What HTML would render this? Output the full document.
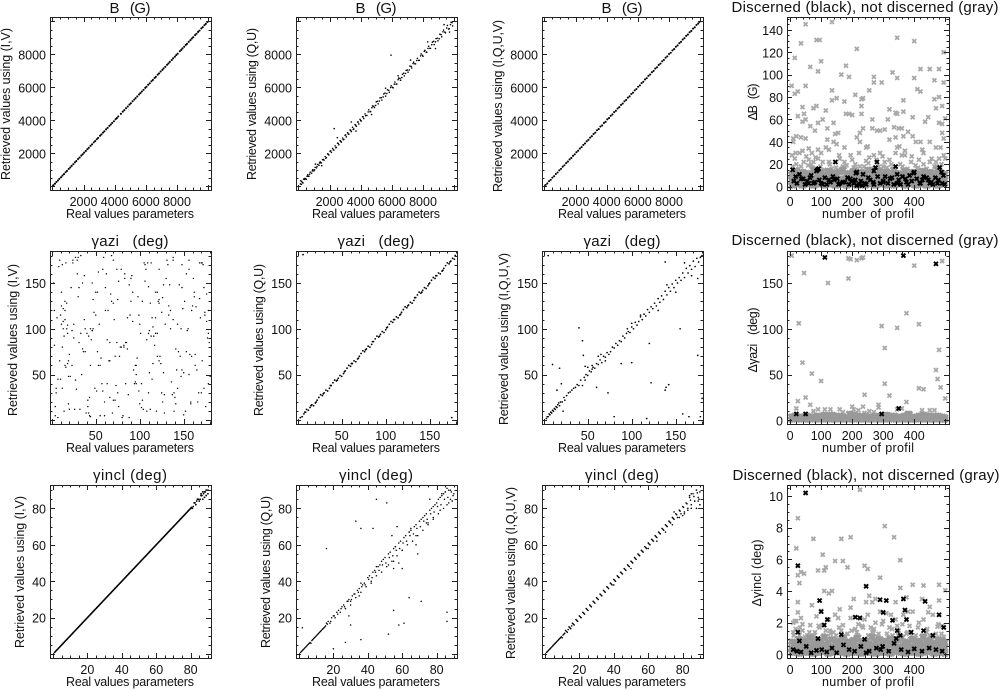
<!DOCTYPE html>
<html lang="en">
<head>
<meta charset="utf-8">
<title>Retrieved vs real values</title>
<style>
html,body{margin:0;padding:0;background:#fff;width:1004px;height:691px;overflow:hidden}
svg{display:block}
text{font-family:"Liberation Sans",sans-serif;fill:#111;white-space:pre}
.t{font-size:15px;text-anchor:middle}
.a{font-size:12.5px;text-anchor:middle}
.n{font-size:12.5px}
</style>
</head>
<body>
<svg id="chart" width="1004" height="691" viewBox="0 0 1004 691" xmlns="http://www.w3.org/2000/svg">
<rect width="1004" height="691" fill="#fff"/>
<g>
<text class="t" x="130" y="13" textLength="41">B   (G)</text>
<text class="t" x="376" y="13" textLength="41">B   (G)</text>
<text class="t" x="622" y="13" textLength="41">B   (G)</text>
<text class="t" x="865" y="12" textLength="267">Discerned (black), not discerned (gray)</text>
<text class="t" x="130" y="246" textLength="77">γazi   (deg)</text>
<text class="t" x="376" y="246" textLength="77">γazi   (deg)</text>
<text class="t" x="622" y="246" textLength="77">γazi   (deg)</text>
<text class="t" x="865" y="245" textLength="267">Discerned (black), not discerned (gray)</text>
<text class="t" x="130" y="480" textLength="74">γincl (deg)</text>
<text class="t" x="376" y="480" textLength="74">γincl (deg)</text>
<text class="t" x="622" y="480" textLength="74">γincl (deg)</text>
<text class="t" x="866" y="480" textLength="267">Discerned (black), not discerned (gray)</text>
</g>
<g>
<text class="a" x="130" y="218" textLength="128">Real values parameters</text>
<text class="a" x="376" y="218" textLength="128">Real values parameters</text>
<text class="a" x="622" y="218" textLength="128">Real values parameters</text>
<text class="a" x="868" y="218" textLength="92">number of profil</text>
<text class="a" x="130" y="452" textLength="128">Real values parameters</text>
<text class="a" x="376" y="452" textLength="128">Real values parameters</text>
<text class="a" x="622" y="452" textLength="128">Real values parameters</text>
<text class="a" x="868" y="452" textLength="92">number of profil</text>
<text class="a" x="130" y="686" textLength="128">Real values parameters</text>
<text class="a" x="376" y="686" textLength="128">Real values parameters</text>
<text class="a" x="622" y="686" textLength="128">Real values parameters</text>
<text class="a" x="868" y="686" textLength="92">number of profil</text>
</g>
<g>
<text class="a" transform="translate(10,104) rotate(-90)" textLength="152">Retrieved values using (I,V)</text>
<text class="a" transform="translate(256,104) rotate(-90)" textLength="152">Retrieved values using (Q,U)</text>
<text class="a" transform="translate(502,106) rotate(-90)" textLength="172">Retrieved values using (I,Q,U,V)</text>
<text class="a" transform="translate(757,102) rotate(-90)" textLength="37">ΔB   (G)</text>
<text class="a" transform="translate(17,340) rotate(-90)" textLength="152">Retrieved values using (I,V)</text>
<text class="a" transform="translate(263,340) rotate(-90)" textLength="152">Retrieved values using (Q,U)</text>
<text class="a" transform="translate(508,339) rotate(-90)" textLength="172">Retrieved values using (I,Q,U,V)</text>
<text class="a" transform="translate(757,340) rotate(-90)" textLength="65">Δγazi   (deg)</text>
<text class="a" transform="translate(24,572) rotate(-90)" textLength="152">Retrieved values using (I,V)</text>
<text class="a" transform="translate(270,572) rotate(-90)" textLength="152">Retrieved values using (Q,U)</text>
<text class="a" transform="translate(515,573) rotate(-90)" textLength="172">Retrieved values using (I,Q,U,V)</text>
<text class="a" transform="translate(761,573) rotate(-90)" textLength="67">Δγincl (deg)</text>
</g>
</svg>
<script>
// Tick labels
const ticksB=[2000,4000,6000,8000];
const ticksAzi=[50,100,150];
const ticksIncl=[20,40,60,80];
const ticksProfile=[0,100,200,300,400];
const ticksDeltaB=[0,20,40,60,80,100,120,140];
const ticksDeltaAzi=[0,50,100,150];
const ticksDeltaIncl=[0,2,4,6,8,10];

// B (G), retrieved with (I,V)
const bIvReal=[70,170,260,360,450,560,650,750,850,940,1050,1150,1240,1350,1450,1540,1650,1750,1860,1950,2040,2150,2250,2340,2450,2550,2660,2750,2850,2940,3060,3150,3250,3340,3450,3550,3660,3750,3840,3950,4060,4140,4230,4400,4520,4620,4730,4840,4950,5040,5150,5260,5340,5450,5560,5650,5740,5850,5960,6040,6150,6250,6360,6450,6560,6640,6760,6850,6950,7060,7140,7250,7360,7450,7540,7660,7750,7860,7950,8040,8180,8270,8350,8460,8560,8640,8750,8860,8950,9040,9160,9250,9350,9440,9560,9650,9760,9850,9950];
const bIvRetrieved=[75,165,265,355,455,555,655,745,855,935,1055,1145,1245,1345,1455,1535,1655,1745,1865,1945,2045,2145,2255,2335,2455,2545,2665,2745,2855,2935,3065,3145,3255,3335,3455,3545,3665,3745,3845,3945,4065,4135,4235,4395,4525,4615,4735,4835,4955,5035,5155,5255,5345,5445,5565,5645,5745,5845,5965,6035,6155,6245,6365,6445,6565,6635,6765,6845,6955,7055,7145,7245,7365,7445,7545,7655,7755,7855,7955,8035,8185,8265,8355,8455,8565,8635,8755,8855,8955,9035,9165,9245,9355,9435,9565,9645,9765,9845,9955];

// B (G), retrieved with (Q,U)
const bQuReal=[150,200,220,300,340,420,510,600,680,760,850,930,1000,1080,1170,1250,1330,1400,1480,1560,1650,1720,1800,1880,1960,2040,2120,2200,2280,2360,2440,2520,2600,2680,2760,2840,2920,3000,3080,3160,3240,3320,3400,3480,3560,3640,3720,3800,3880,3960,4040,4120,4200,4280,4400,4520,4640,4760,4880,5000,5120,5240,5360,5480,5600,5720,5840,5960,6080,6200,6320,6440,6560,6680,6800,6920,7040,7160,7280,7400,7520,7640,7760,7880,8000,8120,8240,8360,8480,8600,8720,8840,8960,9080,9200,9320,9440,9560,9680,9800,9900,5950,2300,8800,2500,3400,7200,1500,4700,6400,9350,9700,5600,3700,1100,8300];
const bQuRetrieved=[340,120,300,210,440,480,430,700,610,860,800,1010,940,1150,1120,1330,1280,1480,1420,1620,1590,1810,1740,1970,1900,2130,2060,2300,2200,2450,2360,2620,2520,2770,2680,2930,2840,3090,3000,3250,3160,3420,3320,3580,3480,3740,3640,3900,3780,4060,3960,4220,4110,4390,4300,4640,4530,4870,4770,5120,5000,5360,5230,5600,5470,5850,5700,6090,5970,6320,6200,6560,6430,6790,6690,7030,6920,7290,7170,7520,7420,7760,7640,8020,7880,8240,8120,8490,8360,8740,8590,8950,8820,9220,9060,9470,9300,9750,9550,9950,9720,7950,3500,8350,2950,3900,7650,1250,4350,6700,9800,9350,5950,3350,1350,8750];
const bQuExtraReal=[130,260,390,470,560,640,720,900,1040,1200,1360,1450,1600,1760,1920,2080,2240,2400,2560,2720,2880,3040,3200,3360,3520,3680,3840,4000,4160,4320,4480,4600,4720,4840,4960,5080,5200,5320,5440,5560,5680,5800,5920,6040,6160,6280,6400,6520,6640,6760,6880,7000,7120,7240,7360,7480,7600,7720,7840,7960,8080,8200,8320,8440,8560,8680,8800,8920,9040,9160,9280,9400,9520,9640,9760,9860];
const bQuExtraRetrieved=[150,220,420,460,610,610,735,940,1005,1210,1420,1425,1630,1710,1940,2150,2210,2340,2600,2730,2835,3120,3180,3395,3450,3705,3900,3985,4210,4280,4510,4520,4765,4860,4900,5155,5170,5375,5415,5650,5625,5815,5990,6000,6195,6195,6460,6540,6590,6855,6845,7045,7050,7265,7440,7425,7630,7630,7905,7940,8180,8140,8360,8365,8580,8790,8755,8980,8945,9190,9365,9350,9590,9530,9800,9920];

// B (G), retrieved with (I,Q,U,V)
const bIquvReal=[80,190,300,410,520,630,740,850,960,1070,1180,1290,1400,1510,1620,1730,1840,1950,2060,2170,2280,2390,2500,2610,2720,2830,2940,3050,3160,3270,3380,3490,3600,3710,3820,3930,4040,4150,4260,4370,4480,4590,4700,4810,4920,5030,5140,5250,5360,5470,5580,5690,5800,5910,6020,6130,6240,6350,6460,6570,6680,6790,6900,7010,7120,7230,7340,7450,7560,7670,7780,7890,8000,8110,8220,8330,8440,8550,8660,8770,8880,8990,9100,9210,9320,9430,9540,9650,9760,9870,9950];
const bIquvRetrieved=[90,175,315,400,530,620,750,840,970,1060,1190,1280,1410,1500,1630,1720,1850,1940,2070,2160,2290,2380,2510,2600,2730,2820,2950,3040,3175,3255,3400,3470,3625,3690,3840,3910,4060,4135,4275,4355,4495,4575,4715,4795,4935,5015,5155,5235,5375,5455,5595,5675,5815,5895,6035,6115,6255,6335,6475,6555,6695,6775,6915,6995,7135,7215,7355,7435,7575,7655,7795,7875,8015,8095,8235,8315,8455,8535,8675,8755,8895,8975,9115,9195,9335,9415,9555,9635,9775,9855,9960];

// Delta B (G): gray = not discerned
const bandProfile=[3,14,26,37,49,61,73,85,96,108,120,132,143,155,167,179,190,202,214,226,238,249,261,273,285,296,308,320,332,343,355,367,379,390,402,414,426,437,449,461,473,485,497];
const bandProfileAlt=[9,20,32,43,55,67,79,91,102,114,126,138,149,161,173,185,196,208,220,232,244,255,267,279,291,302,314,326,338,349,361,373,385,396,408,420,432,443,455,467,479,491,500];
const deltaBGrayProfile=[5,15,15,25,35,50,50,65,85,95,90,100,20,25,40,45,40,50,75,85,65,80,90,105,115,120,135,140,135,135,150,165,175,180,190,215,210,235,230,230,255,270,270,295,330,345,345,400,400,410,420,420,450,480,465,495,495,465,480,490,470,365,365,320,340,345,395,435,445,480,490,500,10,10,35,50,60,30,40,70,90,100,115,125,140,150,155,145,175,180,190,200,230,235,225,215,225,245,265,265,280,290,305,315,320,335,350,360,340,345,365,370,380,395,405,420,430,450,470,490,495,485,495,500,15,20,35,60,75,90,105,125,145,160,175,195,210,225,245,255,270,290,305,320,340,355,370,390,415,430,450,465,480];
const deltaBGrayError=[90,115,83,85,128,145,90,107,131,131,103,112,45,63,71,65,58,60,70,72,54,50,57,60,68,52,86,57,147,77,79,100,76,108,98,123,82,79,78,72,86,98,93,93,102,97,133,130,97,87,85,105,105,105,95,93,120,78,80,72,70,77,67,69,66,65,62,58,62,57,56,61,40,43,44,43,34,30,32,30,33,30,35,33,40,38,48,47,35,65,65,64,65,52,48,44,40,35,52,60,50,50,51,60,42,53,52,52,44,35,45,32,49,45,40,40,30,40,35,48,43,35,28,25,25,20,18,24,22,25,22,22,22,25,22,28,20,18,23,26,28,30,22,24,30,20,28,22,24,20,22,18,25];
const deltaBGrayExtraProfile=[8,28,44,58,72,82,98,110,128,148,158,168,182,200,212,222,238,252,262,278,286,298,312,326,338,352,362,378,392,404,412,426,440,456,472,488,18,52,88,120,170,205,250,300,360,410,470,6,68,134];
const deltaBGrayExtraError=[18,16,22,19,17,26,18,15,20,17,28,16,19,24,16,30,18,21,16,24,18,27,17,20,16,36,18,16,27,19,17,33,16,25,18,20,30,27,16,42,18,17,36,18,28,16,22,28,20,16];
const deltaBBandLow=[1,3,2,1,3,2,1,3,2,1,2,3,1,2,3,1,2,3,1,2,1,3,2,1,3,2,1,3,1,2,3,1,2,3,1,2,3,1,2,3,1,2,3];
const deltaBBandMid=[6,7,5,8,6,7,5,6,8,5,7,6,8,5,7,6,5,8,6,7,5,6,8,7,5,6,7,8,5,6,7,8,6,5,7,6,8,5,7,6,5,7,6];
const deltaBBandHigh=[11,14,10,13,12,10,15,11,13,10,14,12,10,13,15,11,12,14,10,13,11,15,12,10,14,11,13,10,15,12,11,14,10,13,12,10,14,11,13,10,15,12,11];
const deltaBBlackProfile=[8,18,30,42,55,68,80,88,92,112,125,138,146,152,170,185,198,205,212,222,235,245,258,268,275,282,300,315,328,340,350,362,375,385,398,408,418,430,445,455,468,475,482,488,494,22,48,75,105,130,160,190,215,240,270,300,345,380,420,460,490,85,215,270,280,345,400,12,36,60,94,118,142,176,194,228,252,290,322,356,392,426,450,478,498,64,100,156,210,232,306,334,372,440];
const deltaBBlackError=[15,9,11,7,5,10,4,15,16,8,6,9,22,7,4,8,5,3,12,2,11,2,6,4,17,9,5,3,8,18,6,9,4,10,12,7,3,9,6,4,8,3,17,13,10,3,2,3,2,4,3,2,1,3,2,4,3,2,3,2,3,14,13,14,22,11,13,5,7,3,6,2,6,4,7,5,8,3,7,2,5,6,3,6,2,8,3,2,6,1,9,2,7,8];

// Gamma azimuth (deg), retrieved with (I,V)
const aziIvReal=[3,8,12,15,18,22,26,30,34,38,42,47,52,57,62,66,71,76,80,85,90,95,100,105,110,114,118,123,128,133,138,142,147,152,157,162,167,172,177,180,2,6,10,14,17,20,24,28,33,37,41,45,50,55,60,64,68,73,78,83,87,92,97,102,107,111,116,121,126,131,136,141,145,150,155,160,165,170,175,179,5,9,13,16,19,23,27,31,35,39,44,48,53,58,63,67,72,77,81,86,91,96,101,106,112,117,122,127,132,137,143,148,153,158,163,168,173,178,4,11,16,21,25,29,36,43,49,54,59,65,70,75,82,88,94,99,104,109,115,120,125,130,135,140,146,151,156,161,166,171,176,7,12,15,19,24,32,40,46,51,56,61,69,74,79,84,89,93,98,103,108,113,119,124,129,134,139,144,149,154,159,164,169,174,10,13,17,18,14,11,15,44,42,46,114,118,122,112,126,120,110,164,168,172,166,174];
const aziIvRetrieved=[82,168,35,120,62,145,12,178,50,100,8,132,75,40,160,25,110,152,3,85,130,60,18,172,95,45,140,70,28,115,178,55,100,10,72,135,30,170,90,48,150,112,45,10,128,72,175,34,95,158,22,88,140,60,5,120,180,38,80,155,28,108,68,14,165,52,92,130,20,175,42,78,148,6,100,125,55,172,15,85,30,65,122,172,18,98,44,145,78,8,60,118,162,32,88,138,22,70,5,112,158,40,95,152,12,82,128,52,170,28,105,145,75,18,60,172,35,120,15,140,58,48,90,160,75,5,35,105,178,65,22,132,80,148,40,115,12,172,62,95,30,155,100,25,70,130,50,155,20,65,108,3,80,130,48,172,12,95,150,32,68,120,8,85,165,40,115,55,135,22,88,172,10,62,105,148,30,75,122,98,120,124,112,118,115,108,100,104,92,105,110,100,92,98,112,95,132,128,134,140,146];
const aziIvExtraReal=[3,7,9,13,20,23,27,31,35,38,43,46,50,55,58,63,68,72,76,79,83,88,92,96,100,106,110,113,118,122,128,133,138,143,148,153,158,163,168,173,178,5,11,19,25,33,41,47,53,61,66,70,75,82,90,95,103,108,115,120,127,135,141,150,156,162,170,176,4,15,29,37,52,60,74,86,99,111,125,139,147,159,171,178,18,44,70,96,122,148,174,12,30,66,84,102,138,156];
const aziIvExtraRetrieved=[120,45,175,100,12,60,178,85,150,75,25,98,115,5,165,40,130,70,15,80,160,3,140,50,105,170,30,92,112,65,8,125,175,35,55,160,20,72,133,145,95,35,125,65,105,180,15,100,60,145,85,175,30,82,155,42,130,10,102,70,148,120,18,52,175,140,30,138,5,60,175,110,140,20,165,78,32,98,118,10,48,70,172,40,95,4,128,60,165,170,115,170,135,65,85,40,110,165];

// Gamma azimuth (deg), retrieved with (Q,U)
const aziQuReal=[5,8,12,16,20,24,28,32,36,40,44,48,52,56,60,64,68,72,76,80,84,88,92,96,100,104,108,112,116,120,124,128,132,136,140,144,148,152,156,160,164,168,172,176,179,10,18,26,34,42,50,58,66,74,82,90,98,106,114,122,130,138,146,154,162,170,178,6,175];
const aziQuRetrieved=[4,9,11,17,19,25,27,33,35,41,43,49,51,57,59,65,67,73,75,81,83,89,91,97,99,105,107,113,115,121,123,129,131,137,139,145,147,153,155,161,163,169,171,177,180,12,16,28,32,44,48,60,64,76,80,92,96,108,112,124,128,140,144,156,160,172,176,181,3];
const aziQuExtraReal=[3,7,14,22,30,38,46,54,62,70,78,86,94,102,110,118,126,134,142,150,158,166,174,9,15,21,29,37,45,53,61,69,77,85,93,101,109,117,125,133,141,149,157,165,173];
const aziQuExtraRetrieved=[3,7,14,22,30,38,46,54,62,70,78,86,94,102,110,118,126,134,142,150,158,166,174,9,16,20,29,38,44,53,62,68,77,86,92,101,110,116,125,134,140,149,158,164,173];

// Gamma azimuth (deg), retrieved with (I,Q,U,V)
const aziIquvReal=[3,4,5,6,7,8,9,10,11,12,13,14,15,16,17,18,19,21,23,24,26,28,30,32,34,36,38,40,42,44,46,47,48,50,52,54,55,56,58,60,62,64,66,68,70,72,74,76,78,80,82,84,86,88,90,92,94,96,98,100,102,104,106,108,110,112,114,116,118,120,122,124,126,128,130,132,134,136,138,140,142,144,146,148,150,152,154,156,158,160,162,164,166,168,170,172,174,176,178,180,5,10,18,20,15,22,40,44,45,47,60,62,73,88,80,100,117,120,122,138,138,139,142,155,158,165,175,178,180,175,55,65,50,70,95,100,110,130,140,150,160,168];
const aziIquvRetrieved=[2,4,4,7,6,9,8,11,10,13,12,15,14,17,19,16,20,20,25,22,27,30,31,33,35,36,39,38,44,38,47,44,50,49,54,53,56,58,57,62,61,66,63,70,69,74,72,75,80,79,84,82,87,86,92,90,95,97,96,102,100,107,104,108,113,110,116,114,121,118,124,122,128,125,133,129,136,132,141,137,145,141,149,145,153,150,156,153,161,156,166,161,169,165,174,168,177,173,178,180,180,61,57,40,33,10,101,87,71,59,36,70,30,62,4,63,2,84,41,173,33,36,39,100,7,4,71,4,24,155,60,72,58,65,100,106,115,120,148,140,172,158];

// Delta gamma azimuth (deg)
const deltaAziGrayProfile=[5,20,25,28,40,45,50,65,70,75,90,100,112,122,130,160,170,188,188,195,200,205,215,220,230,235,240,235,240,255,270,285,285,295,305,305,320,345,345,360,375,375,380,400,415,415,425,430,450,465,470,475,480,485,490,500];
const deltaAziGrayError=[180,13,21,106,63,161,25,17,51,10,12,43,12,150,12,12,9,155,177,176,15,12,175,11,177,15,28,178,8,10,9,17,14,103,79,40,27,101,12,13,117,20,8,169,35,105,11,34,11,11,55,45,77,36,174,24];
const deltaAziBandLow=[1,2,1,2,1,1,2,1,2,1,2,1,1,2,1,2,1,1,2,1,2,1,1,2,1,2,1,2,1,1,2,1,2,1,1,2,1,2,1,1,2,1,1];
const deltaAziBandHigh=[4,5,3,4,5,4,3,5,4,6,5,6,4,5,4,3,7,6,5,4,5,4,3,5,4,5,6,4,5,4,3,5,7,4,3,5,6,4,5,3,5,4,3];
const deltaAziBlackProfile=[112,365,470,20,50,295,350];
const deltaAziBlackError=[178,180,171,7,7,7,13];

// Gamma inclination (deg), retrieved with (I,V)
const inclIvReal=[1,2,3,4,5,6,7,8,9,10,11,12,13,14,15,16,17,18,19,20,21,22,23,24,25,26,27,28,29,30,31,32,33,34,35,36,37,38,39,40,41,42,43,44,45,46,47,48,49,50,51,52,53,54,55,56,57,58,59,60,61,62,63,64,65,66,67,68,69,70,71,72,73,74,75,76,77,78,79,80,81,82,83,84,85,86,87,88,89,90,86,88,84,87,89,90];
const inclIvRetrieved=[1,2,3,4,5,6,7,8,9,10,11,12,13,14,15,16,17,18,19,20,21,22,23,24,25,26,27,28,29,30,31,32,33,34,35,36,37,38,39,40,41,42,43,44,45,46,47,48,49,50,51,52,53,54,55,56,57,58,59,60,61,62,63,64,65,66,67,68,69,70,71,72,73,74,75,76,77,78,79,80,80,83,82,85,84,87,85,89,87,90,88,86,85,89,90,88];
const inclIvExtraReal=[1.5,2.5,3.5,4.5,5.5,6.5,7.5,8.5,9.5,10.5,11.5,12.5,13.5,14.5,15.5,16.5,17.5,18.5,19.5,20.5,21.5,22.5,23.5,24.5,25.5,26.5,27.5,28.5,29.5,30.5,31.5,32.5,33.5,34.5,35.5,36.5,37.5,38.5,39.5,40.5,41.5,42.5,43.5,44.5,45.5,46.5,47.5,48.5,49.5,50.5,51.5,52.5,53.5,54.5,55.5,56.5,57.5,58.5,59.5,60.5,61.5,62.5,63.5,64.5,65.5,66.5,67.5,68.5,69.5,70.5,71.5,72.5,73.5,74.5,75.5,76.5,77.5,78.5,79.5,80.5,81.5,82.5,83.5,84.5,85.5,86.5,87.5,88.5];
const inclIvExtraRetrieved=[1.5,2.5,3.5,4.5,5.5,6.5,7.5,8.5,9.5,10.5,11.5,12.5,13.5,14.5,15.5,16.5,17.5,18.5,19.5,20.5,21.5,22.5,23.5,24.5,25.5,26.5,27.5,28.5,29.5,30.5,31.5,32.5,33.5,34.5,35.5,36.5,37.5,38.5,39.5,40.5,41.5,42.5,43.5,44.5,45.5,46.5,47.5,48.5,49.5,50.5,51.5,52.5,53.5,54.5,55.5,56.5,57.5,58.5,59.5,60.5,61.5,62.5,63.5,64.5,65.5,66.5,67.5,68.5,69.5,70.5,71.5,72.5,73.5,74.5,75.5,76.5,77.5,78.5,79.5,80.5,81,83,84,85,85,87,88,89];

// Gamma inclination (deg), retrieved with (Q,U)
const inclQuReal=[1,2,3,4,5,6,7,8,9,10,11,12,13,14,15,16,17,18,19,20,21,22,23,24,25,26,27,28,29,30,31,32,33,34,35,36,37,38,39,40,41,42,43,44,45,46,47,48,49,50,51,52,53,54,55,56,57,58,59,60,61,62,63,64,65,66,67,68,69,70,71,72,73,74,75,76,77,78,79,80,81,82,83,84,85,86,87,88,89,90,30,36,42,48,52,56,60,64,68,72,75,78,82,84,86,88,2,16,20,27,29,30,33,36,36,43,45,51,52,54,55,55,58,58,57,60,61,64,68,69,71,76,86,86];
const inclQuRetrieved=[1,2,3,4,5,6,6,8,9,10,11,12,13,14,15,17,18,17,20,21,20,23,24,23,26,27,25,29,30,29,32,33,31,35,36,34,38,39,37,42,43,40,45,46,43,48,49,45,52,53,48,55,56,51,58,59,54,61,62,57,64,65,60,67,68,62,70,71,65,73,74,68,76,77,71,79,80,74,82,83,77,86,87,80,89,91,83,90,84,88,27,39,39,51,49,59,57,67,65,75,72,81,79,88,82,85,14.5,58,3,6.5,21,16,73,69,8,69,85,83,11,65,24,47,16,50,70,47,17,31,60,55,29,85,23,18];
const inclQuExtraReal=[1.5,2.5,3.5,4.5,5.5,6.5,7.5,8.5,9.5,10.5,11.5,12.5,13.5,14.5,15.5,16.5,18.5,20.5,22.5,24.5,26.5,28.5,30.5,32.5,34.5,36.5,38.5,40.5,42.5,44.5,46.5,48.5,50.5,52.5,54.5,56.5,58.5,60.5,62.5,64.5,66.5,68.5,70.5,72.5,74.5,76.5,78.5,80.5,82.5,84.5,86.5,88.5,89.5,85,87,83,89,81,78,74,65,55,45,35];
const inclQuExtraRetrieved=[1.5,2.5,3.5,4.5,5.5,6.5,7.5,8.5,9.5,10.5,11.5,12.5,13.5,14.5,15.5,16.5,18,21,22,25,26,29,30,33,34,37,38,41,42,45,46,49,50,53,54,57,58,61,62,65,66,69,70,73,74,77,78,81,82,85,86,89,87,89,90,88,84,85,75,72,69,51,48,32];

// Gamma inclination (deg), retrieved with (I,Q,U,V)
const inclIquvReal=[1,2,3,4,5,6,7,8,9,10,11,12,13,14,15,16,17,18,19,20,21,22,23,24,25,26,27,28,29,30,31,32,33,34,35,36,37,38,39,40,41,42,43,44,45,46,47,48,49,50,51,52,53,54,55,56,57,58,59,60,61,62,63,64,65,66,67,68,69,70,71,72,73,74,75,76,77,78,79,80,81,82,83,84,85,86,87,88,89,90,40,50,60,70,80,85,75,65,88,90,84];
const inclIquvRetrieved=[1,2,3,4,5,6,7,8,9,9,11,13,12,15,14,17,16,19,18,21,20,23,22,25,24,27,26,29,28,31,30,33,32,35,34,37,36,39,38,41,40,43,42,45,44,47,46,49,48,51,50,53,52,55,54,57,56,59,58,61,60,63,62,65,64,67,66,69,68,71,70,73,72,75,74,77,75,79,77,81,78,83,80,86,82,88,84,90,86,89,38,47,58,67,76,80,78,62,80,82,87];
const inclIquvExtraReal=[1.5,2.5,3.5,4.5,5.5,6.5,7.5,8.5,9.5,10.5,11.5,12.5,13.5,14.5,15.5,16.5,18.5,20.5,22.5,24.5,26.5,28.5,30.5,32.5,34.5,36.5,38.5,40.5,42.5,44.5,46.5,48.5,50.5,52.5,54.5,56.5,58.5,60.5,62.5,64.5,66.5,68.5,70.5,72.5,74.5,76.5,78.5,80.5,82.5,84.5,86.5,88.5,89.5,85,87,83,89,81,78,74];
const inclIquvExtraRetrieved=[1.5,2.5,3.5,4.5,5.5,6.5,7.5,8.5,9.5,10.5,11.5,12.5,13.5,14.5,15.5,16.5,18.5,20.5,22.5,24.5,26.5,28.5,30.5,32.5,34.5,36.5,38.5,40.5,42.5,44.5,46.5,48.5,50.5,52.5,54.5,56.5,58.5,60.5,62.5,64.5,66.5,68.5,70.5,72.5,74.5,76.5,78.5,80.5,82.5,84.5,86.5,88.5,85,88,84,79,84,77,75,71];

// Delta gamma inclination (deg)
const deltaInclGrayProfile=[20,25,25,30,35,45,75,70,90,105,110,115,110,125,135,145,165,170,195,185,205,225,240,250,245,255,265,275,290,305,335,355,355,340,375,395,425,430,450,480,480,500,25,15,10,20,25,35,40,65,85,100,105,125,145,160,155,170,195,195,210,225,240,250,260,275,290,300,310,325,340,350,365,380,395,415,430,445,460,475,490,10,30,55,80,115,140,165,185,215,235,265,285,320,345,375,405,440,470,495];
const deltaInclGrayError=[6.7,8.6,5.0,4.5,5.2,5.1,7.3,3.1,5.3,6.3,5.3,5.5,4.0,3.85,4.0,5.9,7.3,5.9,7.4,5.5,3.5,10.4,5.6,5.4,3.3,3.7,3.3,3.5,4.85,8.1,7.4,5.95,4.2,3.3,3.6,4.4,3.5,4.35,3.0,3.4,4.4,4.05,3.3,2.1,2.0,2.1,2.65,2.3,1.5,1.85,2.4,2.75,1.85,2.2,2.5,2.85,2.3,1.85,2.95,2.3,1.6,2.3,2.2,2.5,1.7,2.0,2.7,2.1,2.6,2.5,2.2,1.5,2.5,2.7,2.7,2.0,2.2,2.65,2.5,1.75,1.8,1.4,1.2,1.2,1.4,1.5,1.4,1.5,1.3,1.4,1.7,1.4,1.3,1.7,1.8,1.3,1.2,1.4,1.3,1.1];
const deltaInclGrayExtraProfile=[12,32,48,62,78,92,108,128,148,158,178,198,218,232,252,268,282,296,312,328,348,362,378,392,412,428,442,458,478,488,18,40,70,95,130,175,220,270,330,385,450];
const deltaInclGrayExtraError=[1.2,1.7,1.1,1.4,1.2,1.8,1.2,1.5,1.2,1.7,1.1,1.5,1.2,1.8,1.2,1.5,1.1,1.9,1.3,1.6,1.2,1.9,1.4,1.2,1.7,1.2,1.6,1.2,1.9,1.3,1.6,1.9,1.2,1.7,1.3,1.2,1.9,1.6,1.2,1.8,1.2];
const deltaInclBandLow=[.1,.2,.05,.15,.1,.2,.05,.1,.2,.15,.05,.1,.2,.15,.1,.05,.2,.1,.15,.05,.2,.1,.15,.05,.1,.2,.1,.05,.15,.2,.1,.05,.15,.1,.2,.05,.1,.15,.2,.05,.1,.15,.05];
const deltaInclBandMid=[.4,.5,.35,.45,.55,.4,.5,.35,.45,.6,.4,.5,.35,.55,.45,.4,.5,.6,.35,.45,.5,.4,.55,.35,.5,.45,.4,.6,.35,.5,.45,.55,.4,.35,.5,.45,.6,.4,.5,.35,.55,.45,.4];
const deltaInclBandHigh=[.8,.7,.95,.75,.85,1.05,.7,.9,.8,1.1,.75,.95,.7,.85,1.0,.8,.7,.9,1.05,.75,.85,.7,1.1,.8,.95,.75,.85,1.0,.7,.9,1.05,.8,.7,.95,.85,.75,1.1,.8,.9,.7,.95,.85,.75];
const deltaInclBlackProfile=[50,25,95,245,290,310,365,435,225,210,100,120,110,25,30,90,165,240,300,330,345,370,375,390,430,460,480,495,355,10,22,35,52,68,85,102,118,135,150,172,190,208,228,245,255,278,292,298,318,335,342,358,380,400,425,448,470,490];
const deltaInclBlackError=[10.2,5.6,3.4,4.3,3.45,3.4,3.5,3.35,2.3,2.35,2.7,2.2,1.85,1.4,.85,1.0,1.25,.95,2.65,2.15,1.5,2.8,2.2,1.4,1.5,1.2,2.5,1.7,1.2,.3,.2,.15,.5,.1,.25,.3,.15,.4,.1,.6,.3,.2,.5,.1,.2,.4,.3,.5,.2,.7,1.0,.3,.15,.35,.2,.4,.3,.2];

// Axis functions
function makeScale(d0,d1,r0,r1){return function(v){return r0+(v-d0)*(r1-r0)/(d1-d0);};}
const SVGNS='http://www.w3.org/2000/svg';
const chart=document.getElementById('chart');
function mk(tag,parent){const el=document.createElementNS(SVGNS,tag);parent.appendChild(el);return el;}
function crisp(v){return Math.round(v)+0.5;}

function drawAxisX(g,box,sx,ticks,minorPer){
  const axis=mk('g',g);
  
  
  const step=ticks[1]-ticks[0],minorStep=step/minorPer;
  let d='';
  const start=ticks[0]-Math.floor((ticks[0]-sx.d0)/minorStep)*minorStep;
  for(let v=start;v<=sx.d1+1e-9;v+=minorStep){
    const px=crisp(sx(v)),isMajor=Math.abs(((v-ticks[0])/step)-Math.round((v-ticks[0])/step))<1e-6;
    const len=isMajor?5:2.5;
    d+='M'+px+','+box.y+'v'+len+'M'+px+','+(box.y+box.h)+'v-'+len;
  }
  const p=mk('path',axis);
  p.setAttribute('d',d);p.setAttribute('stroke','#222');p.setAttribute('stroke-width','1');p.setAttribute('fill','none');
  ticks.forEach(function(v){
    const t=mk('text',axis);
    
    
    t.setAttribute('class','n');t.setAttribute('x',sx(v));t.setAttribute('y',box.y+box.h+16);t.setAttribute('text-anchor','middle');
    t.textContent=String(v);
  });
}
function drawAxisY(g,box,sy,ticks,minorPer){
  const axis=mk('g',g);
  
  
  const step=ticks[1]-ticks[0],minorStep=step/minorPer;
  let d='';
  const start=ticks[0]-Math.floor((ticks[0]-sy.d0)/minorStep)*minorStep;
  for(let v=start;v<=sy.d1+1e-9;v+=minorStep){
    const py=crisp(sy(v)),isMajor=Math.abs(((v-ticks[0])/step)-Math.round((v-ticks[0])/step))<1e-6;
    const len=isMajor?5:2.5;
    d+='M'+box.x+','+py+'h'+len+'M'+(box.x+box.w)+','+py+'h-'+len;
  }
  const p=mk('path',axis);
  p.setAttribute('d',d);p.setAttribute('stroke','#222');p.setAttribute('stroke-width','1');p.setAttribute('fill','none');
  ticks.forEach(function(v){
    const t=mk('text',axis);
    
    
    t.setAttribute('class','n');t.setAttribute('x',box.x-4);t.setAttribute('y',sy(v)+5);t.setAttribute('text-anchor','end');
    t.textContent=String(v);
  });
}
function drawDots(parent,xs,ys,sx,sy,size){
  const n=Math.min(xs.length,ys.length);
  for(let i=0;i<n;i++){
    const c=mk('circle',parent);
    
    
    c.setAttribute('cx',sx(xs[i]));c.setAttribute('cy',sy(ys[i]));c.setAttribute('r',size);c.setAttribute('fill','#000');
  }
}
function drawCrosses(parent,xs,ys,sx,sy,color,name,half,width){
  const n=Math.min(xs.length,ys.length);
  for(let i=0;i<n;i++){
    const c=mk('path',parent);
    
    
    const px=sx(xs[i]),py=sy(ys[i]);
    c.setAttribute('d','M'+(px-half)+','+(py-half)+'L'+(px+half)+','+(py+half)+'M'+(px-half)+','+(py+half)+'L'+(px+half)+','+(py-half));
    c.setAttribute('stroke',color);c.setAttribute('stroke-width',width);c.setAttribute('fill','none');
  }
}
function drawBand(parent,layers,sx,sy){
  layers.forEach(function(layer){
    drawCrosses(parent,bandProfile,layer,sx,sy,'#999','not-discerned-point',2.6,2.6);
    drawCrosses(parent,bandProfileAlt,layer,sx,sy,'#999','not-discerned-point',2.6,2.6);
  });
}
let clipCount=0;
function panel(name,box,xd,yd,xt,yt,xm,ym,paint){
  const g=mk('g',chart);
  
  
  const sx=makeScale(xd[0],xd[1],box.x,box.x+box.w);sx.d0=xd[0];sx.d1=xd[1];
  const sy=makeScale(yd[0],yd[1],box.y+box.h,box.y);sy.d0=yd[0];sy.d1=yd[1];
  const id='clip'+(++clipCount);
  const cp=mk('clipPath',g);cp.setAttribute('id',id);
  const cr=mk('rect',cp);cr.setAttribute('x',box.x);cr.setAttribute('y',box.y);cr.setAttribute('width',box.w);cr.setAttribute('height',box.h);
  const marks=mk('g',g);
  
  
  marks.setAttribute('clip-path','url(#'+id+')');
  paint(marks,sx,sy);
  const frame=mk('rect',g);
  
  
  frame.setAttribute('x',box.x+.5);frame.setAttribute('y',box.y+.5);frame.setAttribute('width',box.w);frame.setAttribute('height',box.h);
  frame.setAttribute('fill','none');frame.setAttribute('stroke','#222');frame.setAttribute('stroke-width','1');
  drawAxisX(g,box,sx,xt,xm);
  drawAxisY(g,box,sy,yt,ym);
}
const colX=[50,296,542,787],rowY=[17,251,485];
function boxAt(c,r){return {x:colX[c],y:rowY[r],w:c===3?162:161,h:173};}
const domB=[-150,10180],domBY=[-220,10260],domAzi=[-2,181],domAziY=[-4,185],domIncl=[-1.7,91.8],domInclY=[-2.1,92.8],domProfile=[-10,512];

function dots(sets,size){return function(m,sx,sy){sets.forEach(function(s){drawDots(m,s[0],s[1],sx,sy,size);});};}
panel('panel-b-iv',boxAt(0,0),domB,domBY,ticksB,ticksB,4,4,dots([[bIvReal,bIvRetrieved]],1.05));
panel('panel-b-qu',boxAt(1,0),domB,domBY,ticksB,ticksB,4,4,dots([[bQuReal,bQuRetrieved],[bQuExtraReal,bQuExtraRetrieved]],.8));
panel('panel-b-iquv',boxAt(2,0),domB,domBY,ticksB,ticksB,4,4,dots([[bIquvReal,bIquvRetrieved]],1.05));
panel('panel-delta-b',boxAt(3,0),domProfile,[-3,151.5],ticksProfile,ticksDeltaB,5,4,function(m,sx,sy){
  drawCrosses(m,deltaBGrayProfile,deltaBGrayError,sx,sy,'#a8a8a8','not-discerned-point',2,1.8);
  drawCrosses(m,deltaBGrayExtraProfile,deltaBGrayExtraError,sx,sy,'#a8a8a8','not-discerned-point',2,1.8);
  drawBand(m,[deltaBBandLow,deltaBBandMid,deltaBBandHigh],sx,sy);
  drawCrosses(m,deltaBBlackProfile,deltaBBlackError,sx,sy,'#000','discerned-point',2,1.9);
});
panel('panel-azi-iv',boxAt(0,1),domAzi,domAziY,ticksAzi,ticksAzi,5,5,dots([[aziIvReal,aziIvRetrieved],[aziIvExtraReal,aziIvExtraRetrieved]],.7));
panel('panel-azi-qu',boxAt(1,1),domAzi,domAziY,ticksAzi,ticksAzi,5,5,dots([[aziQuReal,aziQuRetrieved],[aziQuExtraReal,aziQuExtraRetrieved]],.9));
panel('panel-azi-iquv',boxAt(2,1),domAzi,domAziY,ticksAzi,ticksAzi,5,5,dots([[aziIquvReal,aziIquvRetrieved]],.85));
panel('panel-delta-azi',boxAt(3,1),domProfile,[-4,185],ticksProfile,ticksDeltaAzi,5,5,function(m,sx,sy){
  drawCrosses(m,deltaAziGrayProfile,deltaAziGrayError,sx,sy,'#a8a8a8','not-discerned-point',2,1.8);
  drawBand(m,[deltaAziBandLow,deltaAziBandHigh],sx,sy);
  drawCrosses(m,deltaAziBlackProfile,deltaAziBlackError,sx,sy,'#000','discerned-point',2,1.9);
});
panel('panel-incl-iv',boxAt(0,2),domIncl,domInclY,ticksIncl,ticksIncl,4,4,dots([[inclIvReal,inclIvRetrieved],[inclIvExtraReal,inclIvExtraRetrieved]],.9));
panel('panel-incl-qu',boxAt(1,2),domIncl,domInclY,ticksIncl,ticksIncl,4,4,dots([[inclQuReal,inclQuRetrieved],[inclQuExtraReal,inclQuExtraRetrieved]],.75));
panel('panel-incl-iquv',boxAt(2,2),domIncl,domInclY,ticksIncl,ticksIncl,4,4,dots([[inclIquvReal,inclIquvRetrieved],[inclIquvExtraReal,inclIquvExtraRetrieved]],.8));
panel('panel-delta-incl',boxAt(3,2),domProfile,[-.23,10.7],ticksProfile,ticksDeltaIncl,5,4,function(m,sx,sy){
  drawCrosses(m,deltaInclGrayProfile,deltaInclGrayError,sx,sy,'#a8a8a8','not-discerned-point',2,1.8);
  drawCrosses(m,deltaInclGrayExtraProfile,deltaInclGrayExtraError,sx,sy,'#a8a8a8','not-discerned-point',2,1.8);
  drawBand(m,[deltaInclBandLow,deltaInclBandMid,deltaInclBandHigh],sx,sy);
  drawCrosses(m,deltaInclBlackProfile,deltaInclBlackError,sx,sy,'#000','discerned-point',2,1.9);
});
</script>
</body>
</html>
